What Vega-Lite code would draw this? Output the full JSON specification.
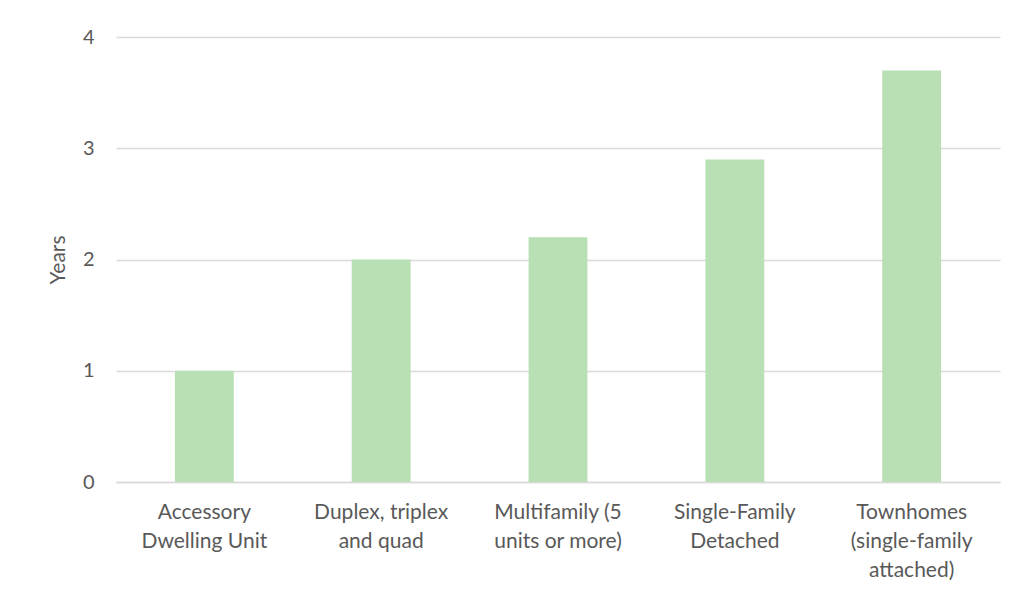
{
  "$schema": "https://vega.github.io/schema/vega-lite/v6.json",
  "width": 884,
  "height": 445,
  "autosize": {"type": "none"},
  "padding": {"left": 116, "top": 37, "right": 17, "bottom": 115},
  "background": "white",
  "config": {
    "view": {"stroke": null},
    "font": "Lato"
  },
  "data": {
    "values": [
      {"type": "Accessory Dwelling Unit", "years": 1.0},
      {"type": "Duplex, triplex and quad", "years": 2.0},
      {"type": "Multifamily (5 units or more)", "years": 2.2},
      {"type": "Single-Family Detached", "years": 2.9},
      {"type": "Townhomes (single-family attached)", "years": 3.7}
    ]
  },
  "mark": {"type": "bar", "color": "#b9e0b5"},
  "encoding": {
    "x": {
      "field": "type",
      "type": "nominal",
      "sort": null,
      "scale": {"paddingInner": 0.667, "paddingOuter": 0.333},
      "axis": {
        "title": null,
        "labelAngle": 0,
        "labelFontSize": 21,
        "labelColor": "#595959",
        "labelLineHeight": 29,
        "labelPadding": 19,
        "domainColor": "#d9d9d9",
        "domainWidth": 1.5,
        "ticks": false,
        "labelExpr": "datum.value == 'Accessory Dwelling Unit' ? ['Accessory', 'Dwelling Unit'] : datum.value == 'Duplex, triplex and quad' ? ['Duplex, triplex', 'and quad'] : datum.value == 'Multifamily (5 units or more)' ? ['Multifamily (5', 'units or more)'] : datum.value == 'Single-Family Detached' ? ['Single-Family', 'Detached'] : ['Townhomes', '(single-family', 'attached)']"
      }
    },
    "y": {
      "field": "years",
      "type": "quantitative",
      "scale": {"domain": [0, 4]},
      "axis": {
        "title": "Years",
        "titleFontSize": 21,
        "titleFontWeight": "normal",
        "titleColor": "#595959",
        "titlePadding": 14,
        "values": [0, 1, 2, 3, 4],
        "format": "d",
        "labelFontSize": 20,
        "labelColor": "#595959",
        "labelPadding": 22,
        "ticks": false,
        "domain": false,
        "gridColor": "#d9d9d9",
        "gridWidth": 1.5
      }
    }
  }
}
